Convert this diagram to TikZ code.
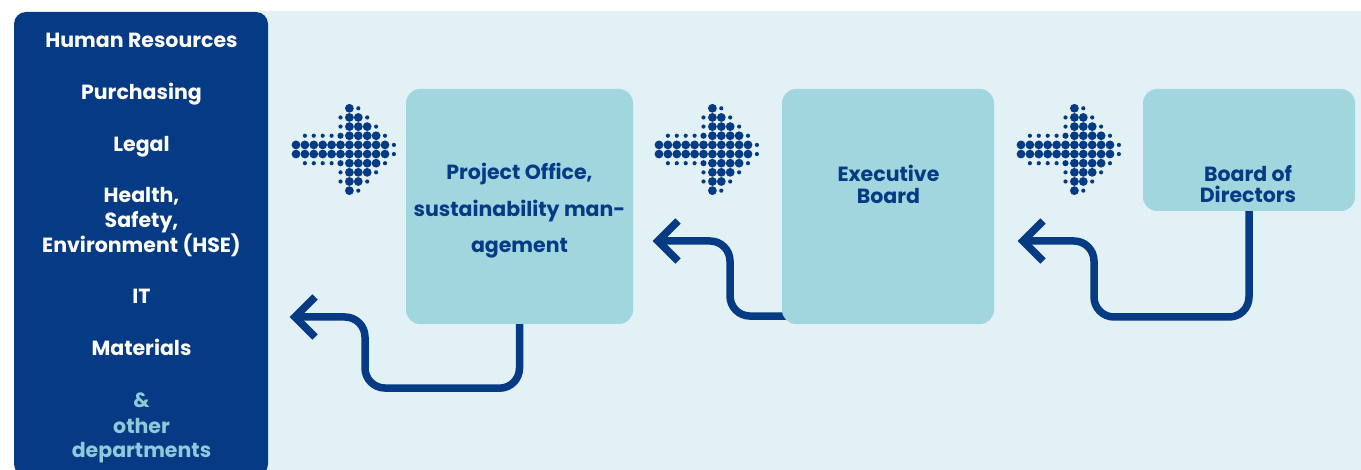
\documentclass[tikz,border=0pt]{standalone}
\usepackage{fontspec}
\setmainfont{Poppins}
\usetikzlibrary{calc}
\definecolor{dblue}{RGB}{5,58,132}
\definecolor{boxteal}{RGB}{162,214,223}
\definecolor{bgblue}{RGB}{226,241,245}
\definecolor{lteal}{RGB}{140,204,218}
\pgfdeclarelayer{bglayer}
\pgfdeclarelayer{midlayer}
\pgfsetlayers{bglayer,midlayer,main}
\tikzset{
  dotarrow/.pic={
    \foreach \c/\r in {6/0,6/9,6/1,7/1,6/8,7/8,6/2,7/2,8/2,6/7,7/7,8/7,
      6/3,7/3,8/3,9/3,6/6,7/6,8/6,9/6,
      0/4,1/4,2/4,3/4,4/4,5/4,6/4,7/4,8/4,9/4,10/4,
      0/5,1/5,2/5,3/5,4/5,5/5,6/5,7/5,8/5,9/5,10/5}
      \fill[dblue] (\c*8.9,\r*9.15) circle[radius=4.4];
    \foreach \c/\r in {5/3,5/6}
      \fill[dblue] (\c*8.9,\r*9.15) circle[radius=3.1];
    \foreach \c/\r in {7/0,7/9,5/1,8/1,5/8,8/8,5/2,9/2,5/7,9/7,
      1/3,2/3,3/3,4/3,10/3,1/6,2/6,3/6,4/6,10/6,11/4,11/5}
      \fill[dblue] (\c*8.9,\r*9.15) circle[radius=2.1];
  }
}
\begin{document}
\begin{tikzpicture}[x=1pt,y=-1pt,
  box/.style={fill=boxteal, rounded corners=14pt, inner sep=0pt, draw=none},
  conn/.style={draw=dblue, line width=7.5pt, rounded corners=20pt},
  head/.style={draw=dblue, line width=7.5pt, miter limit=10},
  dept/.style={text=white, font=\fontsize{20.5}{24}\selectfont\bfseries, anchor=base, inner sep=0pt},
  other/.style={dept, text=lteal},
  lbl/.style={text=dblue, font=\fontsize{20.5}{24}\selectfont\bfseries, anchor=base, inner sep=0pt}
]
\useasboundingbox (0,0) rectangle (1361,470);
\clip (0,0) rectangle (1361,470);
\begin{pgfonlayer}{bglayer}
\fill[white] (0,0) rectangle (1361,470);
\fill[bgblue] (260,11) rectangle (1361,480);
\fill[dblue, rounded corners=12pt] (14,12) rectangle (268,476);
\end{pgfonlayer}

% departments
\node[dept] (hr) at (141.5,48) {Human Resources};
\node[dept] (pu) at (141.5,100) {Purchasing};
\node[dept] (le) at (141.5,152) {Legal};
\node[dept] (hs1) at (141.5,203) {Health,};
\node[dept] (hs2) at (141.5,228) {Safety,};
\node[dept] (hs3) at (141.5,253) {Environment (HSE)};
\node[dept] (it) at (141.5,304) {IT};
\node[dept] (ma) at (141.5,356) {Materials};
\node[other] (od1) at (141.5,407) {\&};
\node[other] (od2) at (141.5,433) {other};
\node[other] (od3) at (141.5,457) {departments};

% boxes
\node[box, minimum width=227pt, minimum height=235pt] (po) at (519.5,206.5) {};
\node[box, minimum width=212pt, minimum height=235pt] (eb) at (888,206.5) {};
\node[box, minimum width=212pt, minimum height=122pt] (bd) at (1249,150) {};

\node[lbl] (po1) at (519.5,180) {Project Office,};
\node[lbl] (po2) at (519.5,216.7) {sustainability man-};
\node[lbl] (po3) at (519.5,253) {agement};
\node[lbl] (eb1) at (888.5,181.7) {Executive};
\node[lbl] (eb2) at (888.5,203.3) {Board};
\node[lbl] (bd1) at (1248,181.7) {Board of};
\node[lbl] (bd2) at (1248,203) {Directors};

% dotted arrows
\pic (da1) at (296,108.3) {dotarrow};
\pic (da2) at (659,108.3) {dotarrow};
\pic (da3) at (1021,108.3) {dotarrow};

% connectors
\coordinate (t1) at (295,317);
\coordinate (t2) at (658,241);
\coordinate (t3) at (1023,241);
\begin{pgfonlayer}{midlayer}
\draw[conn] (po.south) -- ++(0,64) -- (365,388) -- (365,317) -- (t1);
\draw[conn] ($(eb.south west)+(20,-8)$) -- (730,316) -- (730,241) -- (t2);
\draw[conn] (bd.south) -- (1249,317) -- (1094,317) -- (1094,241) -- (t3);
\draw[head] ($(t1)+(20,-20)$) -- (t1) -- ($(t1)+(20,20)$);
\draw[head] ($(t2)+(20,-20)$) -- (t2) -- ($(t2)+(20,20)$);
\draw[head] ($(t3)+(20,-20)$) -- (t3) -- ($(t3)+(20,20)$);
\end{pgfonlayer}
\end{tikzpicture}
\end{document}
